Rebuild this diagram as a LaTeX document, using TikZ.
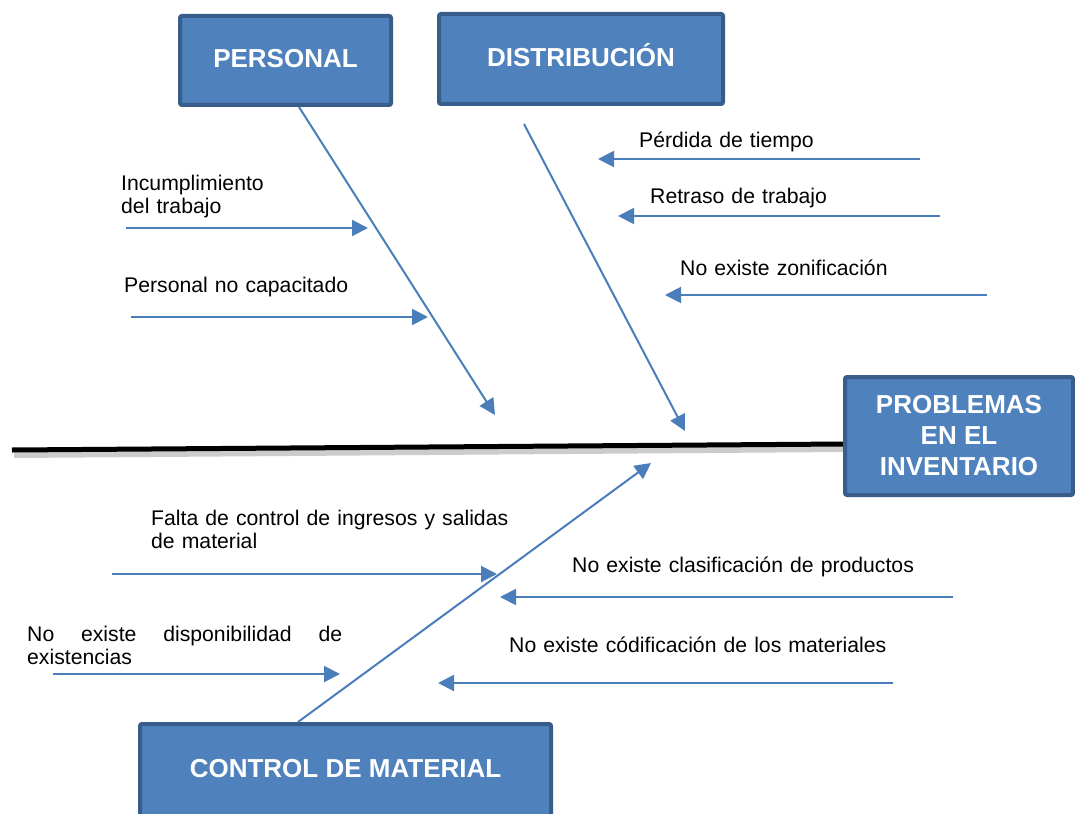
\documentclass[tikz,border=0pt]{standalone}
\usepackage{fontspec}
\setmainfont{Liberation Sans}
\usetikzlibrary{arrows.meta}
\definecolor{boxfill}{HTML}{4F81BD}
\definecolor{boxline}{HTML}{385D8A}
\definecolor{arr}{HTML}{4A7EBB}
\begin{document}
\begin{tikzpicture}[x=1pt,y=-1pt,
  box/.style={draw=boxline, line width=4pt, fill=boxfill, rounded corners=2pt, text=white,
    font=\fontsize{26}{31}\selectfont\bfseries, align=center, inner sep=0pt},
  cause/.style={draw=arr, line width=2pt, -{Triangle[length=16pt,width=16pt]}},
  lbl/.style={font=\fontsize{21.2}{23.5}\selectfont, inner sep=0pt, anchor=base west, align=left}
]
\clip (0,0) rectangle (1075,813);
\fill[white] (0,0) rectangle (1075,813);

% spine with shadow
\coordinate (spL) at (12,450);
\coordinate (spR) at (845,444);
\draw[line width=6pt, black!20] ([shift={(2,5)}]spL) -- ([shift={(0,5)}]spR);
\draw[line width=5pt, black] (spL) -- (spR);

% boxes
\node[box, minimum width=211pt, minimum height=89pt] (personal) at (285.5,60.5) {\raisebox{4pt}{PERSONAL}};
\node[box, minimum width=284pt, minimum height=90pt] (distrib) at (581,59) {\raisebox{8pt}{DISTRIBUCIÓN}};
\node[box, minimum width=228pt, minimum height=118pt] (problem) at (959,436) {PROBLEMAS\\EN EL\\INVENTARIO};
\node[box, minimum width=411pt, minimum height=120pt] (control) at (345.5,784) {\raisebox{32pt}{CONTROL DE MATERIAL}};

% bones
\coordinate (b1s) at (299,107);  \coordinate (b1e) at (495,415);
\coordinate (b2s) at (524,124);  \coordinate (b2e) at (685,431);
\coordinate (b3s) at (298,722);  \coordinate (b3e) at (651,463);
\draw[cause] (b1s) -- (b1e);
\draw[cause] (b2s) -- (b2e);
\draw[cause] (b3s) -- (b3e);

% labels
\node[lbl, text width=200pt] (t1) at (121,190) {Incumplimiento\\del trabajo};
\node[lbl, text width=260pt] (t2) at (124,292) {Personal no capacitado};
\node[lbl, text width=200pt] (t3) at (639,148) {Pérdida de tiempo};
\node[lbl, text width=220pt] (t4) at (650,203) {Retraso de trabajo};
\node[lbl, text width=240pt] (t5) at (680,275) {No existe zonificación};
\node[lbl, text width=380pt] (t6) at (151,525) {Falta de control de ingresos y salidas\\de material};
\node[lbl, text width=380pt] (t7) at (572,572) {No existe clasificación de productos};
\node[lbl, text width=315pt, align=justify] (t8) at (27,641) {\hyphenpenalty=10000\relax No existe disponibilidad de\linebreak existencias};
\node[lbl, text width=400pt] (t9) at (509,652) {No existe códificación de los materiales};

% cause arrows
\coordinate (c1s) at (126,228); \coordinate (c1e) at (368,228);
\coordinate (c2s) at (131,317); \coordinate (c2e) at (428,317);
\coordinate (c3s) at (920,159); \coordinate (c3e) at (598,159);
\coordinate (c4s) at (940,216); \coordinate (c4e) at (618,216);
\coordinate (c5s) at (987,295); \coordinate (c5e) at (665,295);
\coordinate (c6s) at (112,574); \coordinate (c6e) at (497,574);
\coordinate (c7s) at (953,597); \coordinate (c7e) at (500,597);
\coordinate (c8s) at (53,674);  \coordinate (c8e) at (340,674);
\coordinate (c9s) at (893,683); \coordinate (c9e) at (438,683);
\foreach \i in {1,...,9} {\draw[cause] (c\i s) -- (c\i e);}
\end{tikzpicture}
\end{document}
